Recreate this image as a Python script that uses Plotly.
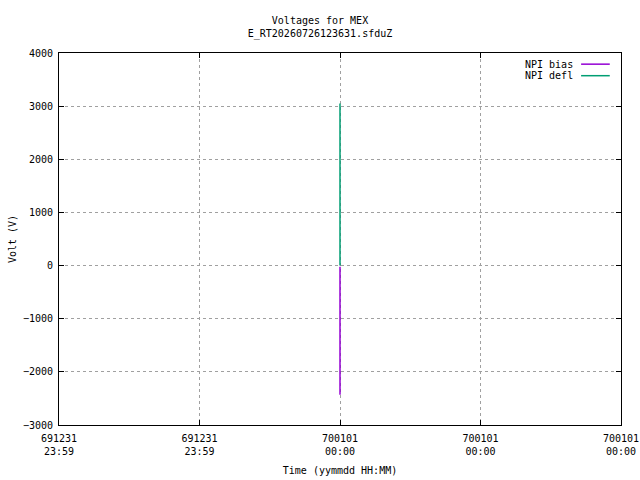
import plotly.graph_objects as go

# data (time axis in minutes relative to 700101 00:00)
bias_time = [0, 0]
bias_volt = [-20, -2430]
defl_time = [0, 0]
defl_volt = [0, 3050]

tick_pos = [-2, -1, 0, 1, 2]
tick_text = ["691231<br>23:59", "691231<br>23:59", "700101<br>00:00",
             "700101<br>00:00", "700101<br>00:00"]
series_names = ["NPI bias", "NPI defl"]
series_colors = ["#9400D3", "#009E73"]

FONT = "DejaVu Sans Mono, Liberation Mono, monospace"
FS = 10

fig = go.Figure()
fig.add_trace(go.Scatter(x=bias_time, y=bias_volt, mode="lines", name=series_names[0],
                         line=dict(color=series_colors[0], width=1.5)))
fig.add_trace(go.Scatter(x=defl_time, y=defl_volt, mode="lines", name=series_names[1],
                         line=dict(color=series_colors[1], width=1.5)))

axis_common = dict(
    showline=True, linecolor="black", linewidth=1, mirror="allticks",
    ticks="inside", ticklen=5, tickcolor="black",
    showgrid=True, gridcolor="#a0a0a0", griddash="3px,3px", gridwidth=1,
    zeroline=False, automargin=False, ticklabeloverflow="allow",
    tickfont=dict(family=FONT, size=FS, color="black"),
)

fig.update_xaxes(range=[-2, 2], tickvals=tick_pos, ticktext=tick_text, ticklabelstandoff=4,
                 title=dict(text="Time (yymmdd HH:MM)", font=dict(family=FONT, size=FS), standoff=10),
                 **axis_common)
fig.update_yaxes(range=[-3000, 4000], dtick=1000, ticklabelstandoff=3,
                 title=dict(text="Volt (V)", font=dict(family=FONT, size=FS), standoff=4),
                 **axis_common)

# gnuplot style key: text right aligned, sample line to its right
for i, (name, col) in enumerate(zip(series_names, series_colors)):
    yk = 0.970 - i * 0.031
    fig.add_annotation(x=0.918, y=yk, xref="paper", yref="paper", text=name,
                       showarrow=False, xanchor="right", yanchor="middle",
                       font=dict(family=FONT, size=FS, color="black"))
    fig.add_shape(type="line", xref="paper", yref="paper",
                  x0=0.929, x1=0.980, y0=yk, y1=yk, line=dict(color=col, width=1.5))

fig.update_layout(
    width=640, height=480,
    margin=dict(l=59, r=19, t=53, b=55, autoexpand=False),
    paper_bgcolor="white", plot_bgcolor="white",
    showlegend=False,
    title=dict(text="Voltages for MEX<br>E_RT20260726123631.sfduZ", x=0.5, xanchor="center",
               y=0.949, yanchor="top", automargin=False,
               font=dict(family=FONT, size=FS, color="black")),
    font=dict(family=FONT, size=FS, color="black"),
)

# drop the browser's default 8px body margin so the figure fills the window
fig.write_html("out.html", config={"displayModeBar": False},
               post_script="document.body.style.margin = '0';")
